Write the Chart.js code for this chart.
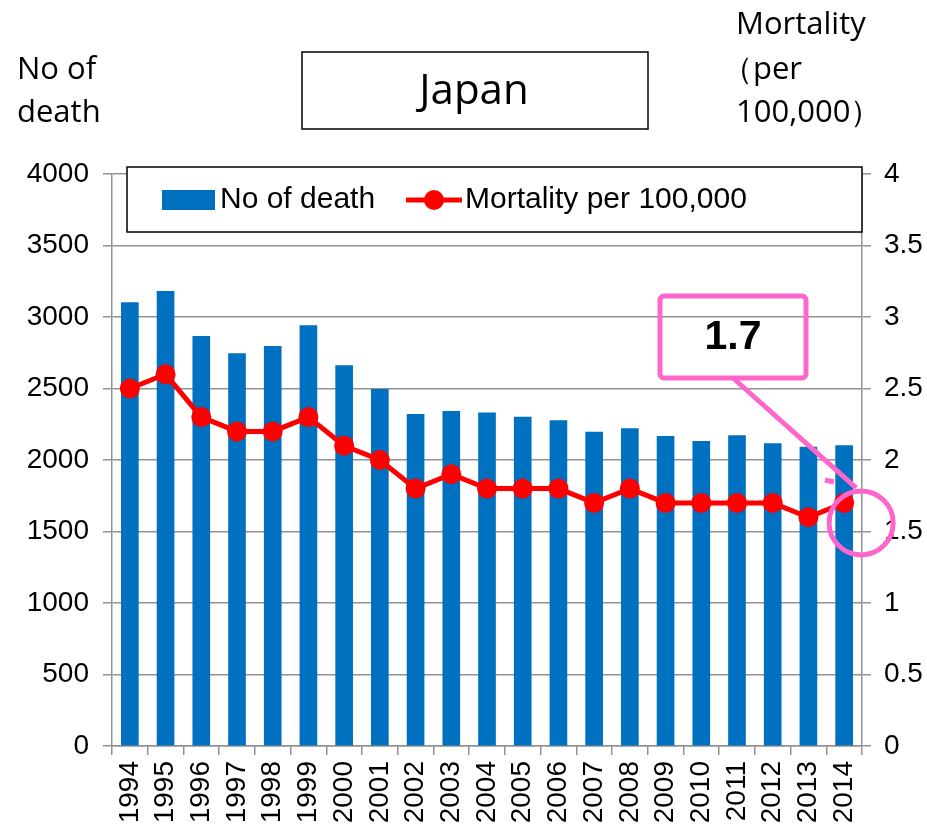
<!DOCTYPE html>
<html>
<head>
<meta charset="utf-8">
<script src="https://cdn.jsdelivr.net/npm/chart.js@4.4.1/dist/chart.umd.min.js"></script>
<style>
  html, body { margin: 0; padding: 0; background: #fff; }
  #wrap { width: 927px; height: 828px; }
</style>
</head>
<body>
<div id="wrap"><canvas id="chart" width="927" height="828"></canvas></div>
<script>
// DATA
const years = ["1994", "1995", "1996", "1997", "1998", "1999", "2000", "2001", "2002", "2003", "2004",
  "2005", "2006", "2007", "2008", "2009", "2010", "2011", "2012", "2013", "2014"];
const deaths = [3100, 3180, 2865, 2745, 2795, 2940, 2660, 2495, 2320, 2340, 2330,
  2300, 2275, 2195, 2220, 2165, 2130, 2170, 2115, 2090, 2100];
const mortality = [2.5, 2.6, 2.3, 2.2, 2.2, 2.3, 2.1, 2.0, 1.8, 1.9, 1.8,
  1.8, 1.8, 1.7, 1.8, 1.7, 1.7, 1.7, 1.7, 1.6, 1.7];
const calloutText = "1.7";

const sansFamily = "'Liberation Sans', Arial, sans-serif";
const tickFont = { family: sansFamily, size: 28 };
const headFont = "'Open Sans', sans-serif";
const gridColor = '#929292';

// HEADERS, LEGEND AND CALLOUT
const decorations = {
  id: 'decorations',
  afterDatasetsDraw(chart) {
    const c = chart.ctx;
    c.save();

    // left / right axis titles
    c.fillStyle = '#000';
    c.textBaseline = 'middle';
    c.font = '31px ' + headFont;
    c.textAlign = 'left';
    c.fillText('No of', 17, 70);
    c.fillText('death', 17, 113);
    c.fillText('Mortality', 736, 25);
    c.fillText('（per', 722, 70);
    c.fillText('100,000）', 736, 113);

    // title box
    c.strokeStyle = '#000';
    c.lineWidth = 1.5;
    c.strokeRect(302, 52, 346, 77);
    c.font = '42px ' + headFont;
    c.textAlign = 'center';
    c.fillText('Japan', 474, 92);

    // legend
    c.fillStyle = '#fff';
    c.fillRect(127, 167, 735, 65);
    c.strokeRect(127, 167, 735, 65);
    c.fillStyle = '#0070C0';
    c.fillRect(162, 190, 53, 20);
    c.fillStyle = '#000';
    c.textAlign = 'left';
    c.font = '30px ' + sansFamily;
    c.fillText('No of death', 220, 200);
    c.strokeStyle = '#FF0000';
    c.lineWidth = 5;
    c.beginPath();
    c.moveTo(406, 200);
    c.lineTo(462, 200);
    c.stroke();
    c.fillStyle = '#FF0000';
    c.beginPath();
    c.arc(434, 200, 10, 0, Math.PI * 2);
    c.fill();
    c.fillStyle = '#000';
    c.fillText('Mortality per 100,000', 465, 200);

    // pink callout
    const pts = chart.getDatasetMeta(1).data;
    const last = pts[pts.length - 1];
    const cx = last.x + 17, cy = last.y + 20;
    c.strokeStyle = '#FF66CC';
    c.lineWidth = 5;
    c.lineJoin = 'round';
    c.beginPath();
    c.roundRect(660, 296, 146, 82, 4);
    c.stroke();
    c.beginPath();
    c.moveTo(733, 378);
    c.lineTo(cx - 5, cy - 35);
    c.stroke();
    c.beginPath();
    c.moveTo(825, 480);
    c.lineTo(834, 482);
    c.stroke();
    c.beginPath();
    c.arc(cx, cy, 32, 0, Math.PI * 2);
    c.stroke();

    c.fillStyle = '#000';
    c.textAlign = 'center';
    c.font = 'bold 41px ' + sansFamily;
    c.fillText(calloutText, 733, 338);

    c.restore();
  }
};

new Chart(document.getElementById('chart'), {
  data: {
    labels: years,
    datasets: [
      {
        type: 'bar',
        label: 'No of death',
        data: deaths,
        backgroundColor: '#0070C0',
        barThickness: 17,
        yAxisID: 'y',
        order: 2
      },
      {
        type: 'line',
        label: 'Mortality per 100,000',
        data: mortality,
        borderColor: '#FF0000',
        backgroundColor: '#FF0000',
        borderWidth: 5,
        pointRadius: 10,
        pointBackgroundColor: '#FF0000',
        pointBorderWidth: 0,
        tension: 0,
        yAxisID: 'y2',
        order: 1
      }
    ]
  },
  options: {
    responsive: false,
    animation: false,
    layout: { padding: { top: 174, left: 0, right: 0, bottom: 0 } },
    plugins: {
      legend: { display: false },
      tooltip: { enabled: false }
    },
    scales: {
      x: {
        offset: true,
        grid: { display: true, drawOnChartArea: false, color: gridColor, lineWidth: 1.5, tickLength: 9, offset: true },
        border: { color: gridColor, width: 1.5 },
        ticks: { color: '#000', font: tickFont, maxRotation: 90, minRotation: 90, padding: 6, autoSkip: false },
        afterFit(scale) { scale.height = 82; }
      },
      y: {
        position: 'left',
        min: 0, max: 4000,
        grid: { color: gridColor, lineWidth: 1.5, tickLength: 9 },
        border: { color: gridColor, width: 1.5 },
        ticks: { stepSize: 500, color: '#000', font: tickFont, padding: 14, callback: v => String(v) },
        afterFit(scale) { scale.width = 112; }
      },
      y2: {
        position: 'right',
        min: 0, max: 4,
        grid: { drawOnChartArea: false, color: gridColor, lineWidth: 1.5, tickLength: 9 },
        border: { color: gridColor, width: 1.5 },
        ticks: { stepSize: 0.5, color: '#000', font: tickFont, padding: 13, callback: v => String(v) },
        afterFit(scale) { scale.width = 65; }
      }
    }
  },
  plugins: [decorations]
});
</script>
</body>
</html>
